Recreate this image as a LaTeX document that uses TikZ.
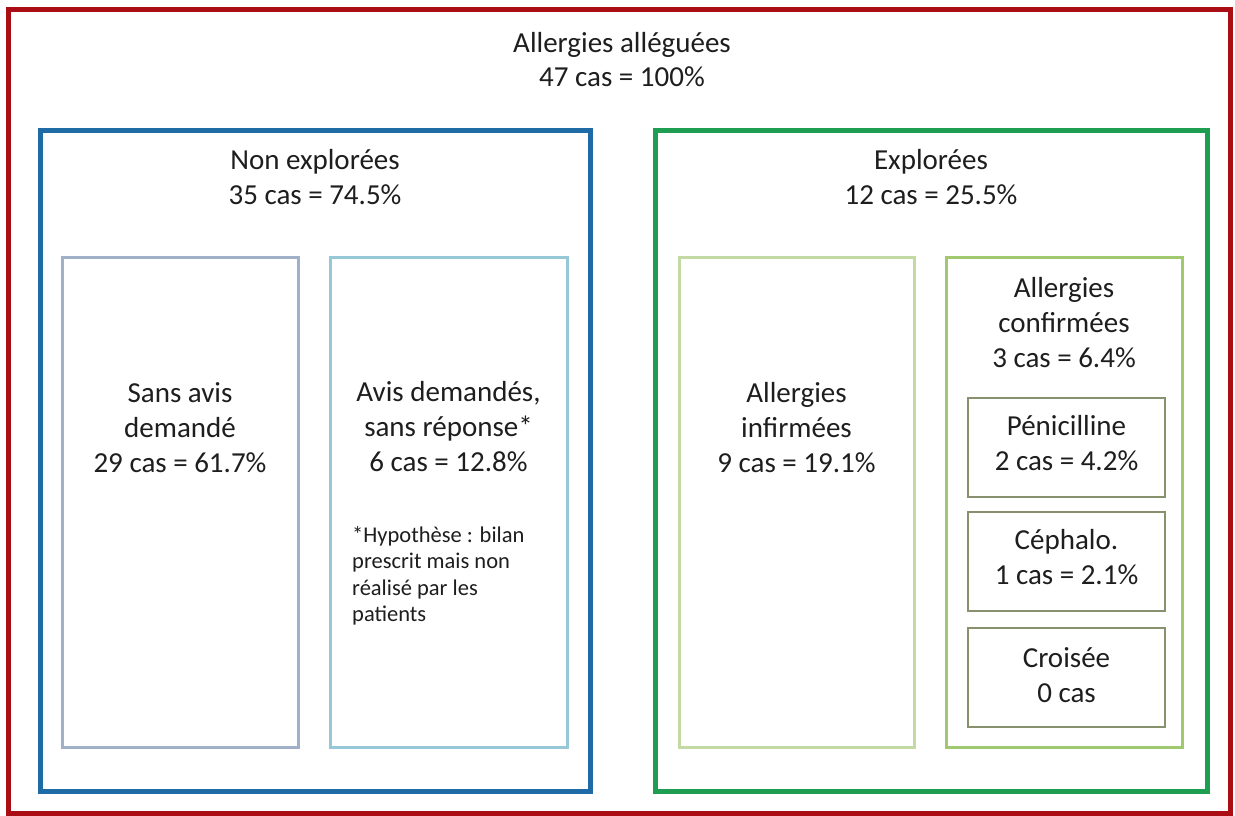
\documentclass[tikz,border=0pt]{standalone}
\usepackage{fontspec}
\setmainfont{Carlito}
\definecolor{cred}{RGB}{170,14,20}
\definecolor{cblue}{RGB}{31,107,165}
\definecolor{cgreen}{RGB}{30,158,80}
\definecolor{csans}{RGB}{160,176,200}
\definecolor{cavis}{RGB}{150,200,215}
\definecolor{cinf}{RGB}{196,218,165}
\definecolor{cconf}{RGB}{160,200,110}
\definecolor{csub}{RGB}{135,145,110}
\definecolor{ctext}{RGB}{30,30,30}
\begin{document}
\begin{tikzpicture}[x=1pt,y=-1pt,
  box/.style={draw, inner sep=0, outer sep=0, fill=none},
  lbl/.style={font=\fontsize{29}{35}\selectfont, align=center, anchor=base, inner sep=0, text=ctext},
  note/.style={font=\fontsize{22.5}{26.5}\selectfont, align=left, anchor=base west, inner sep=0, text=ctext}]
\useasboundingbox (0,0) rectangle (1235,816);
\fill[white] (0,0) rectangle (1235,816);
% boxes
\node[box, draw=cred, line width=5pt, minimum width=1222pt, minimum height=803pt] (outer) at (619,411.5) {};
\node[box, draw=cblue, line width=5pt, minimum width=550pt, minimum height=661pt] (nonexp) at (315,460.5) {};
\node[box, draw=cgreen, line width=5pt, minimum width=552pt, minimum height=661pt] (expl) at (931,460.5) {};
\node[box, draw=csans, line width=3pt, minimum width=236pt, minimum height=490pt] (sans) at (180,502) {};
\node[box, draw=cavis, line width=3pt, minimum width=237pt, minimum height=490pt] (avis) at (448.5,502) {};
\node[box, draw=cinf, line width=3pt, minimum width=235pt, minimum height=490pt] (inf) at (796.5,502) {};
\node[box, draw=cconf, line width=3pt, minimum width=236pt, minimum height=490pt] (conf) at (1064,502) {};
\node[box, draw=csub, line width=2pt, minimum width=197pt, minimum height=99pt] (pen) at (1066.5,447.5) {};
\node[box, draw=csub, line width=2pt, minimum width=197pt, minimum height=99pt] (ceph) at (1066.5,561.5) {};
\node[box, draw=csub, line width=2pt, minimum width=197pt, minimum height=99pt] (crois) at (1066.5,677.5) {};
% texts (anchor = baseline of last line)
\node[lbl] (t-outer) at (622,87) {Allergies alléguées\\47 cas = 100\%};
\node[lbl] (t-nonexp) at (315,204) {Non explorées\\35 cas = 74.5\%};
\node[lbl] (t-expl) at (931,204) {Explorées\\12 cas = 25.5\%};
\node[lbl] (t-sans) at (180,472) {Sans avis\\demandé\\29 cas = 61.7\%};
\node[lbl] (t-avis) at (448.5,471) {Avis demandés,\\sans réponse*\\6 cas = 12.8\%};
\node[note] (t-note) at (352,621.5) {*Hypothèse : bilan\\prescrit mais non\\réalisé par les\\patients};
\node[lbl] (t-inf) at (796.5,472) {Allergies\\infirmées\\9 cas = 19.1\%};
\node[lbl] (t-conf) at (1064,367) {Allergies\\confirmées\\3 cas = 6.4\%};
\node[lbl] (t-pen) at (1066.5,470) {Pénicilline\\2 cas = 4.2\%};
\node[lbl] (t-ceph) at (1066.5,584) {Céphalo.\\1 cas = 2.1\%};
\node[lbl] (t-crois) at (1066.5,702) {Croisée\\0 cas};
\end{tikzpicture}
\end{document}
